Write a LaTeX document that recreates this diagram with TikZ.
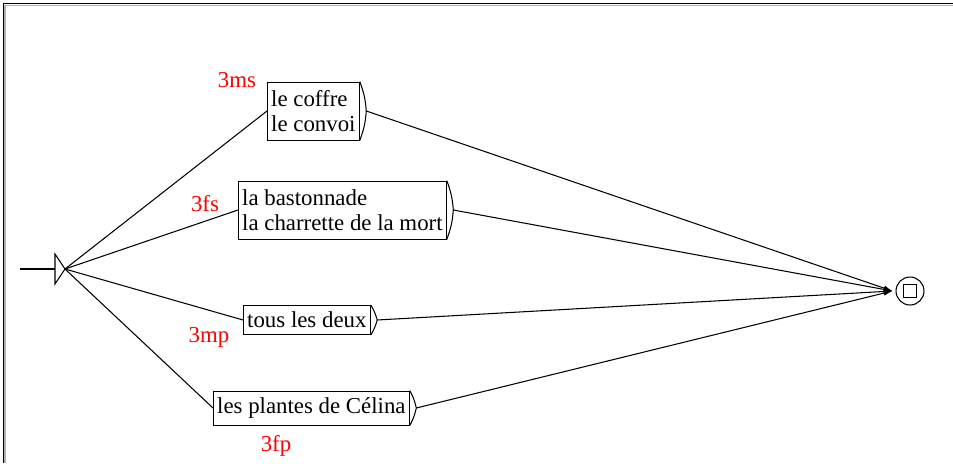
\documentclass[tikz,border=0pt]{standalone}
\usepackage{fontspec}
\setmainfont{Liberation Serif}
\usepackage{tikz}
\usetikzlibrary{arrows.meta}
\tikzset{
    box/.style={draw, anchor=west, align=left, inner xsep=2.2pt, inner ysep=3.8pt, font=\fontsize{13}{14.2}\selectfont},
    tall/.style={minimum height=1.16cm},
    tag/.style={text=red, font=\fontsize{13}{14.2}\selectfont},
    link/.style={semithick},
}
\newcommand*{\tip}[2]{\draw[link](#1.north east) to[bend left=8] (#2) to[bend left=8] (#1.south east);}

\begin{document}
\begin{tikzpicture}[x=.02cm, y=-.02cm]
        \useasboundingbox (0, 0) rectangle (953, 463);
        % frame
        \draw[gray!60, line width=1pt](5, 463)--(5, 5.5)--(953, 5.5);
        \draw[line width=1.1pt](3.5, 463)--(3.5, 3.5)--(953, 3.5);
        % initial state
        \coordinate (in) at (20, 269);
        \coordinate (s0) at (65, 269);
        \draw[link](in)--(55, 269);
        \draw[link](55, 254)--(s0)--(55, 284)--cycle;
        % boxes
        \node[box, tall](b1) at (267, 111){le coffre\\le convoi};
        \node[box, tall](b2) at (238, 210){la bastonnade\\la charrette de la mort};
        \node[box](b3) at (243, 320){tous les deux};
        \node[box](b4) at (213, 408){les plantes de Célina};
        \coordinate (t1) at ([xshift=.13cm]b1.east);
        \coordinate (t2) at ([xshift=.13cm]b2.east);
        \coordinate (t3) at ([xshift=.13cm]b3.east);
        \coordinate (t4) at ([xshift=.13cm]b4.east);
        \tip{b1}{t1} \tip{b2}{t2} \tip{b3}{t3} \tip{b4}{t4}
        % outputs
        \node[tag](l1) at (237, 80){3ms};
        \node[tag](l2) at (205, 204){3fs};
        \node[tag](l3) at (209, 337){3mp};
        \node[tag](l4) at (276, 446){3fp};
        % final state
        \node[draw, circle, semithick, minimum size=.56cm, inner sep=0](f) at (910, 291){};
        \node[draw, semithick, minimum size=.26cm, inner sep=0](fq) at (f){};
        \coordinate (fin) at ([xshift=-.06cm]f.west);
        \draw[link](s0)--(b1.west);
        \draw[link](s0)--(b2.west);
        \draw[link](s0)--(b3.west);
        \draw[link](s0)--(b4.west);
        \foreach \t in {t1, t2, t3, t4}
            \draw[link, -{Latex[length=5pt, width=3pt]}](\t)--(fin);
    \end{tikzpicture}
\end{document}
